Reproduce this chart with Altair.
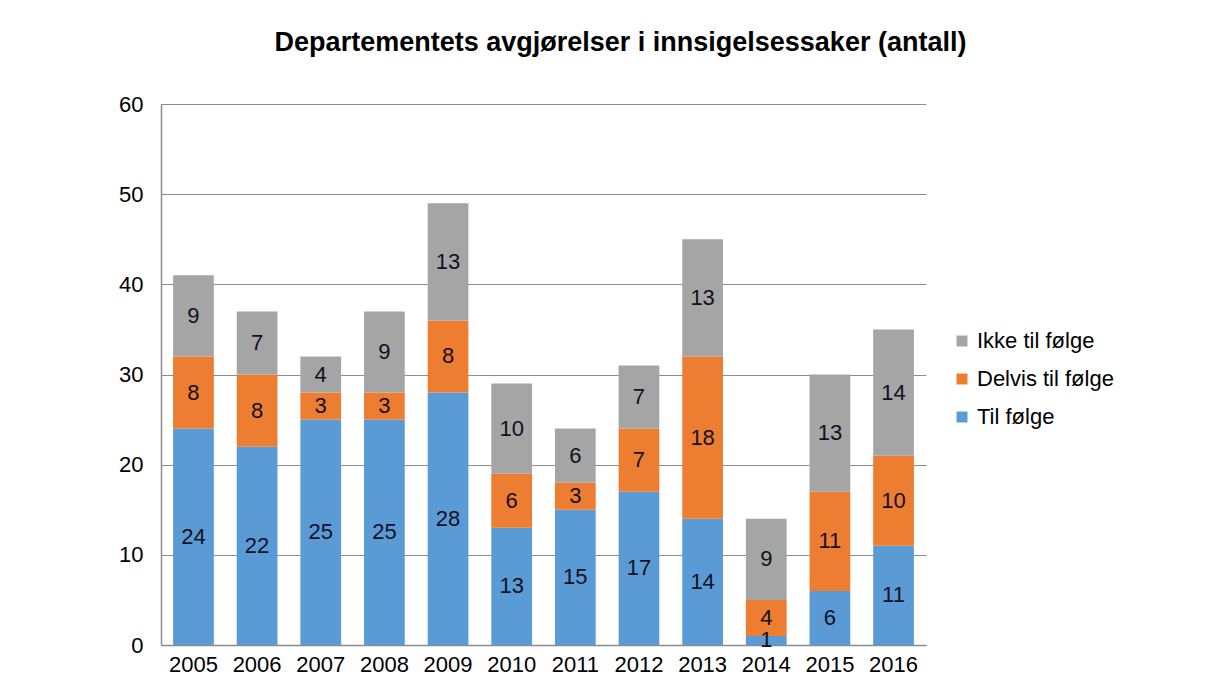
import altair as alt
import pandas as pd

years = ["2005", "2006", "2007", "2008", "2009", "2010", "2011", "2012", "2013", "2014", "2015", "2016"]
til_folge = [24, 22, 25, 25, 28, 13, 15, 17, 14, 1, 6, 11]
delvis = [8, 8, 3, 3, 8, 6, 3, 7, 18, 4, 11, 10]
ikke = [9, 7, 4, 9, 13, 10, 6, 7, 13, 9, 13, 14]
series = ["Ikke til følge", "Delvis til følge", "Til følge"]
colors = ["#A5A5A5", "#ED7D31", "#5B9BD5"]

rows = []
for i, y in enumerate(years):
    rows.append({"year": y, "serie": "Til følge", "value": til_folge[i], "ord": 0})
    rows.append({"year": y, "serie": "Delvis til følge", "value": delvis[i], "ord": 1})
    rows.append({"year": y, "serie": "Ikke til følge", "value": ikke[i], "ord": 2})
df = pd.DataFrame(rows)

FONT = "Liberation Sans"
FS = 22

x = alt.X("year:N", sort=years, title=None,
          scale=alt.Scale(paddingInner=0.36, paddingOuter=0.19),
          axis=alt.Axis(labelAngle=0, labelFontSize=FS, labelFont=FONT, labelColor="#000000",
                        ticks=False, domainColor="#8c8c8c", domainWidth=1.5, labelPadding=9))

base = alt.Chart(df).transform_stack(
    stack="value", groupby=["year"], sort=[alt.SortField("ord", order="ascending")], as_=["y0", "y1"]
).transform_calculate(mid="(datum.y0 + datum.y1) / 2")

bars = base.mark_bar().encode(
    x=x,
    y=alt.Y("y0:Q", title=None, scale=alt.Scale(domain=[0, 60]),
            axis=alt.Axis(values=[0, 10, 20, 30, 40, 50, 60], labelFontSize=FS, labelFont=FONT,
                          labelColor="#000000", ticks=False, domainColor="#8c8c8c", domainWidth=1.5,
                          gridColor="#8c8c8c", gridWidth=1.2, labelPadding=18)),
    y2="y1:Q",
    color=alt.Color("serie:N", scale=alt.Scale(domain=series, range=colors),
                    legend=alt.Legend(title=None, orient="none", legendX=790, legendY=226,
                                      labelFontSize=FS, labelFont=FONT, labelColor="#000000",
                                      symbolType="square", symbolSize=120, symbolStrokeWidth=0,
                                      rowPadding=16, labelOffset=4)),
)

labels = base.mark_text(fontSize=FS, font=FONT, color="#111122").encode(
    x=x,
    y=alt.Y("mid:Q"),
    text="value:Q",
)

chart = (bars + labels).properties(
    width=765, height=541,
    padding={"left": 153, "top": 96, "right": 275, "bottom": 31},
    autosize=alt.AutoSizeParams(type="none"),
    title=alt.TitleParams("Departementets avgjørelser i innsigelsessaker (antall)",
                          fontSize=27, font=FONT, fontWeight="bold", color="#000000",
                          anchor="middle", dx=77, offset=36),
).configure_view(stroke=None)

chart.save("out.html", embed_options={"renderer": "svg", "actions": False})
